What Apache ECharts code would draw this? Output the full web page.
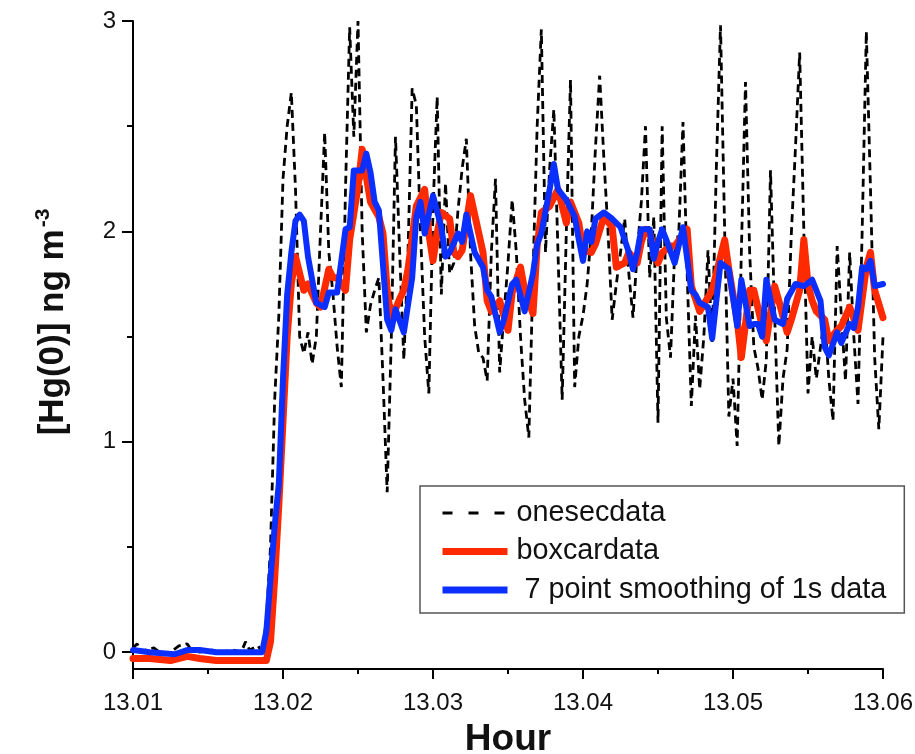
<!DOCTYPE html>
<html>
<head>
<meta charset="utf-8">
<script src="https://cdn.jsdelivr.net/npm/echarts@6/dist/echarts.min.js"></script>
<style>
html,body{margin:0;padding:0;background:#fff;}
#chart{width:915px;height:754px;}
</style>
</head>
<body>
<div id="chart"></div>
<script>
// Time offsets are seconds after 13.01 h; values are [Hg(0)] in ng m^-3
const START_HOUR = 13.01;
const xTickLabels = ['13.01', '13.02', '13.03', '13.04', '13.05', '13.06'];
const yTickLabels = [0, 1, 2, 3];
const yMinorTicks = [0.5, 1.5, 2.5];

const SERIES_NAMES = ['onesecdata', 'boxcardata', '7 point smoothing of 1s data'];

const oneSecSec = [0,1,2,3,5,7,9,11,13,14,16,19,21,24,26,27,28,30,31,32,33,34,35,36,37,38,39,40,41,42,43,44,45,46,47,48,49,50,51,52,53,54,55,56,57,58,59,60,61,62,63,64,65,66,67,68,69,70,71,72,73,74,75,76,77,78,79,80,81,82,83,84,85,86,87,88,89,90,91,92,93,94,95,96,97,98,99,100,101,102,103,104,105,106,107,108,109,110,111,112,113,114,115,116,117,118,119,120,121,122,123,124,125,126,127,128,129,130,131,132,133,134,135,136,137,138,139,140,141,142,143,144,145,146,147,148,149,150,151,152,153,154,155,156,157,158,159,160,161,162,163,164,165,166,167,168,169,170,171,172,173,174,175,176,177,178,179,180];
const oneSecVal = [0.02,0.04,0.00,0.01,0.02,-0.01,0.00,0.03,0.04,0.01,0.00,0.01,0.00,0.01,0.00,0.05,0.01,0.03,0.00,0.15,0.50,1.20,1.60,2.25,2.50,2.66,2.20,1.50,1.42,1.52,1.37,1.50,2.00,2.47,1.90,1.70,1.45,1.26,2.20,2.97,2.45,3.00,2.00,1.52,1.65,1.72,1.78,1.30,0.76,1.50,2.45,1.90,1.39,1.90,2.68,2.60,2.00,1.50,1.23,2.10,2.64,1.70,2.23,1.80,1.85,2.10,2.30,2.44,1.90,1.55,1.42,1.40,1.29,1.90,2.25,1.33,1.60,1.85,2.15,1.90,1.50,1.20,1.02,1.80,2.50,2.96,1.90,2.30,2.58,1.90,1.20,2.00,2.72,1.26,1.50,1.60,1.75,2.00,2.40,2.74,2.35,2.00,1.58,1.75,1.90,2.06,1.80,1.59,1.90,2.14,2.50,1.78,2.07,1.09,2.50,1.59,1.40,1.90,2.00,2.52,1.80,1.17,1.60,1.25,1.50,1.91,1.47,2.30,2.98,2.00,1.12,1.30,0.98,1.90,2.71,1.90,1.45,1.35,1.20,1.39,2.29,1.60,0.98,1.30,1.44,1.99,2.40,2.85,2.00,1.23,1.50,1.30,1.45,1.60,1.30,1.10,1.93,1.60,1.29,1.90,1.50,1.18,2.00,2.95,2.20,1.40,1.06,1.50];

const boxcarSec = [0,4,9,13,16,20,26,32,33,34,35,36,37,38,39,41,42,44,45,47,48,49,51,52,54,55,56,57,59,60,61,62,64,65,66,68,70,71,72,73,74,76,77,78,79,81,83,84,85,86,88,90,91,93,94,96,97,98,100,102,104,105,107,108,110,111,113,115,116,118,119,121,122,123,124,126,127,129,130,133,134,136,139,142,143,145,146,148,149,151,152,154,155,157,158,160,161,162,163,164,166,167,169,170,172,174,176,177,178,180];
const boxcarVal = [-0.03,-0.03,-0.04,-0.02,-0.03,-0.04,-0.04,-0.04,0.05,0.35,0.70,1.10,1.50,1.75,1.88,1.72,1.75,1.66,1.64,1.82,1.78,1.78,1.72,1.96,2.21,2.39,2.26,2.14,2.07,1.99,1.72,1.58,1.68,1.72,1.82,2.12,2.20,1.99,1.86,1.99,2.09,2.06,1.90,1.88,1.91,2.17,1.99,1.90,1.67,1.62,1.67,1.53,1.71,1.83,1.72,1.61,1.93,2.09,2.12,2.20,2.04,2.14,2.04,1.91,1.90,1.94,2.07,2.02,1.83,1.85,1.90,1.85,1.95,2.01,1.99,1.85,1.90,1.93,1.93,2.01,1.74,1.62,1.72,1.96,1.82,1.58,1.40,1.72,1.72,1.55,1.48,1.74,1.67,1.52,1.58,1.72,1.96,1.75,1.67,1.62,1.58,1.48,1.53,1.55,1.64,1.53,1.83,1.90,1.72,1.59];

const smoothSec = [0,4,10,13,16,20,26,31,32,33,34,35,36,37,38,39,40,41,42,44,46,47,49,51,52,53,55,56,57,58,59,61,62,63,65,67,68,69,70,72,74,75,76,78,79,80,82,84,85,86,88,89,91,92,94,96,97,98,100,101,102,104,106,107,108,109,110,111,113,115,117,119,120,121,122,124,125,126,127,128,130,132,134,135,136,138,139,141,143,145,146,148,149,150,151,152,154,156,157,159,161,163,165,166,167,169,170,172,173,174,175,176,177,178,180];
const smoothVal = [0.01,0.00,-0.01,0.01,0.01,0.00,0.00,0.00,0.10,0.35,0.60,0.80,1.30,1.70,1.90,2.05,2.08,2.05,1.88,1.66,1.64,1.71,1.71,2.01,2.02,2.29,2.29,2.37,2.28,2.14,2.10,1.58,1.53,1.63,1.52,1.78,2.07,2.14,1.99,2.17,2.02,1.88,1.90,1.99,1.95,2.08,1.90,1.83,1.72,1.69,1.52,1.58,1.75,1.77,1.62,1.80,1.94,1.99,2.20,2.32,2.20,2.15,2.07,1.96,1.86,2.00,1.95,2.06,2.09,2.06,2.02,1.90,1.82,1.90,2.01,2.01,1.87,1.95,2.01,1.96,1.85,2.02,1.72,1.70,1.66,1.64,1.49,1.85,1.82,1.55,1.77,1.55,1.56,1.56,1.50,1.77,1.58,1.56,1.68,1.75,1.74,1.77,1.67,1.45,1.41,1.52,1.47,1.56,1.54,1.64,1.83,1.82,1.86,1.74,1.75];

function toPairs(secs, vals) {
  return secs.map((s, i) => [START_HOUR + s / 3600, vals[i]]);
}

const FONT = '"Liberation Sans", Arial, Helvetica, sans-serif';
const chart = echarts.init(document.getElementById('chart'), null, {renderer: 'canvas'});

const hiddenSymbol = {color: 'rgba(0,0,0,0)', opacity: 0, borderWidth: 0};

const option = {
  backgroundColor: '#ffffff',
  animation: false,
  grid: {left: 133, right: 32, top: 21, bottom: 85, containLabel: false, outerBoundsMode: 'none'},
  xAxis: {
    type: 'value',
    min: 13.01,
    max: 13.06,
    interval: 0.01,
    axisLine: {show: true, onZero: false, lineStyle: {color: '#000', width: 2}},
    axisTick: {show: true, inside: false, length: 10, lineStyle: {color: '#000', width: 2}},
    minorTick: {show: true, splitNumber: 2, length: 5, lineStyle: {color: '#000', width: 2}},
    splitLine: {show: false},
    minorSplitLine: {show: false},
    axisLabel: {
      fontSize: 24, fontFamily: FONT, color: '#111', margin: 22,
      formatter: v => {
        const s = v.toFixed(2);
        return xTickLabels.indexOf(s) >= 0 ? s : '';
      }
    },
    name: 'Hour',
    nameLocation: 'middle',
    nameGap: 52,
    nameTextStyle: {fontSize: 37, fontWeight: 'bold', fontFamily: FONT, color: '#111'}
  },
  yAxis: [{
    type: 'value',
    min: -0.08,
    max: 3,
    position: 'left',
    axisLine: {show: true, onZero: false, lineStyle: {color: '#000', width: 2}},
    axisTick: {show: true, inside: false, length: 11, customValues: yTickLabels, lineStyle: {color: '#000', width: 2}},
    axisLabel: {fontSize: 24, fontFamily: FONT, color: '#111', margin: 17, customValues: yTickLabels, formatter: v => String(Math.round(v))},
    splitLine: {show: false},
    name: '{a|[Hg(0)] ng m}{s|-3}',
    nameLocation: 'middle',
    nameRotate: 90,
    nameGap: 62,
    nameTextStyle: {
      padding: [0, 0, 0, 46],
      rich: {
        a: {fontSize: 35, fontWeight: 'bold', fontFamily: FONT, color: '#111', lineHeight: 38, verticalAlign: 'bottom'},
        s: {fontSize: 21, fontWeight: 'bold', fontFamily: FONT, color: '#111', lineHeight: 38, verticalAlign: 'top', padding: [0, 0, 15, 2]}
      }
    }
  }, {
    type: 'value',
    min: -0.08,
    max: 3,
    position: 'left',
    axisLine: {show: false},
    axisTick: {show: true, inside: false, length: 6, customValues: yMinorTicks, lineStyle: {color: '#000', width: 2}},
    axisLabel: {show: false},
    splitLine: {show: false}
  }],
  legend: {
    orient: 'vertical',
    left: 420,
    top: 486,
    padding: [12, 18, 8, 19],
    itemWidth: 65,
    itemHeight: 8,
    itemGap: 8.5,
    borderColor: '#555',
    borderWidth: 1.5,
    backgroundColor: '#fff',
    selectedMode: false,
    textStyle: {fontSize: 28.8, fontFamily: FONT, color: '#111', lineHeight: 30, padding: [0, 0, 0, 4]},
    formatter: name => name === SERIES_NAMES[2] ? ' ' + name : name,
    data: [
      {name: SERIES_NAMES[0], itemStyle: hiddenSymbol, lineStyle: {width: 3, type: [10, 16], color: '#000', cap: 'butt'}},
      {name: SERIES_NAMES[1], itemStyle: hiddenSymbol, lineStyle: {width: 7, color: '#ff2a00', cap: 'butt'}},
      {name: SERIES_NAMES[2], itemStyle: hiddenSymbol, lineStyle: {width: 7, color: '#0a2fff', cap: 'butt'}}
    ]
  },
  series: [{
    name: SERIES_NAMES[0],
    type: 'line',
    data: toPairs(oneSecSec, oneSecVal),
    symbol: 'none',
    showSymbol: false,
    z: 1,
    lineStyle: {color: '#000', width: 2.8, type: [8, 5]},
    itemStyle: {color: '#000'}
  }, {
    name: SERIES_NAMES[1],
    type: 'line',
    data: toPairs(boxcarSec, boxcarVal),
    symbol: 'none',
    showSymbol: false,
    z: 2,
    lineStyle: {color: '#ff2a00', width: 7, cap: 'round', join: 'round'},
    itemStyle: {color: '#ff2a00'}
  }, {
    name: SERIES_NAMES[2],
    type: 'line',
    data: toPairs(smoothSec, smoothVal),
    symbol: 'none',
    showSymbol: false,
    z: 3,
    lineStyle: {color: '#0a2fff', width: 6, cap: 'round', join: 'round'},
    itemStyle: {color: '#0a2fff'}
  }]
};
chart.setOption(option);
</script>
</body>
</html>
